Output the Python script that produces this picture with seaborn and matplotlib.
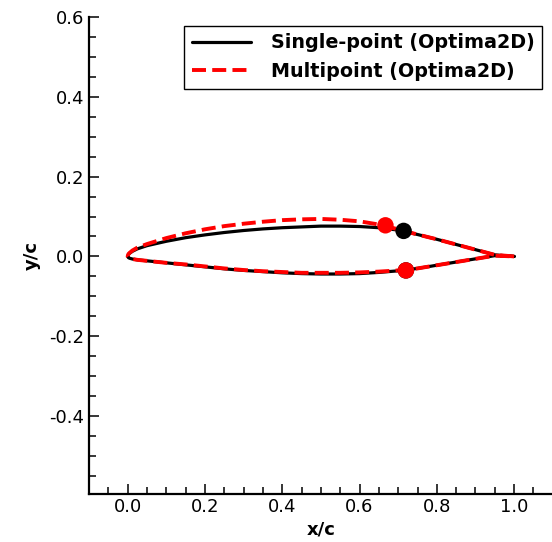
import numpy as np
import pandas as pd
import matplotlib
matplotlib.use("Agg")
import matplotlib.pyplot as plt
import seaborn as sns
from matplotlib.ticker import MultipleLocator

# ---- data ----
x_st = [0.0, 0.002, 0.005, 0.0125, 0.025, 0.05, 0.1, 0.15, 0.2, 0.25, 0.3, 0.35, 0.4,
        0.45, 0.5, 0.55, 0.6, 0.65, 0.7, 0.75, 0.8, 0.85, 0.9, 0.95, 1.0]

single_upper = [0.0, 0.005, 0.008, 0.013, 0.019, 0.027, 0.038, 0.047, 0.054, 0.060, 0.065,
                0.069, 0.072, 0.074, 0.076, 0.076, 0.075, 0.072, 0.066, 0.055, 0.043,
                0.030, 0.017, 0.004, 0.0]
single_lower = [0.0, -0.003, -0.0045, -0.0065, -0.0085, -0.011, -0.016, -0.021, -0.026, -0.031,
                -0.035, -0.038, -0.041, -0.043, -0.044, -0.044, -0.043, -0.040, -0.036,
                -0.030, -0.022, -0.014, -0.006, 0.002, 0.0]

multi_upper = [0.0, 0.006, 0.009, 0.015, 0.022, 0.031, 0.046, 0.058, 0.068, 0.076, 0.082,
               0.087, 0.091, 0.093, 0.094, 0.092, 0.088, 0.080, 0.068, 0.055, 0.043,
               0.030, 0.017, 0.004, 0.0]
multi_lower = [0.0, -0.003, -0.0045, -0.0065, -0.0085, -0.011, -0.016, -0.020, -0.025, -0.030,
               -0.034, -0.037, -0.039, -0.041, -0.041, -0.041, -0.040, -0.038, -0.035,
               -0.030, -0.022, -0.014, -0.006, 0.002, 0.0]

single_pts_x = [0.714, 0.72]
single_pts_y = [0.064, -0.035]
multi_pts_x = [0.667, 0.72]
multi_pts_y = [0.078, -0.035]

labels = ["Single-point (Optima2D)", "Multipoint (Optima2D)"]

xticks = [0.0, 0.2, 0.4, 0.6, 0.8, 1.0]
yticks = [-0.4, -0.2, 0.0, 0.2, 0.4, 0.6]


def contour(upper, lower):
    xs = list(reversed(x_st)) + x_st[1:]
    ys = list(reversed(upper)) + lower[1:]
    return pd.DataFrame({"x": xs, "y": ys})


sns.set_theme(style="ticks")
plt.rcParams["font.family"] = ["DejaVu Sans"]
plt.rcParams["text.color"] = "black"
plt.rcParams["axes.labelcolor"] = "black"
plt.rcParams["xtick.color"] = "black"
plt.rcParams["ytick.color"] = "black"

fig = plt.figure(figsize=(5.52, 5.42), dpi=100)
ax = fig.add_axes([89 / 552, 48.5 / 542, 463.8 / 552, 476.5 / 542])

d1 = contour(single_upper, single_lower)
d2 = contour(multi_upper, multi_lower)

DASH = (0, (3.6, 1.6))

sns.lineplot(data=d1, x="x", y="y", sort=False, estimator=None, ax=ax,
             color="black", linewidth=2.3, label=labels[0])
sns.lineplot(data=d2, x="x", y="y", sort=False, estimator=None, ax=ax,
             color="red", linewidth=2.8, label=labels[1])
ax.lines[1].set_linestyle(DASH)

sns.scatterplot(x=single_pts_x, y=single_pts_y, ax=ax, color="black", s=140,
                edgecolor="none", zorder=5, legend=False)
sns.scatterplot(x=multi_pts_x, y=multi_pts_y, ax=ax, color="red", s=140,
                edgecolor="none", zorder=6, legend=False)

ax.set_xlim(-0.1, 1.1)
ax.set_ylim(-0.594, 0.6)
ax.set_xticks(xticks)
ax.set_yticks(yticks)
ax.xaxis.set_minor_locator(MultipleLocator(0.05))
ax.yaxis.set_minor_locator(MultipleLocator(0.05))
ax.set_xticklabels([f"{v:.1f}" for v in xticks])
ax.set_yticklabels([f"{v:.1f}" for v in yticks])

ax.tick_params(which="both", direction="in", colors="black", labelcolor="black",
               labelsize=13, width=1.1)
ax.tick_params(which="major", length=7)
ax.tick_params(which="minor", length=5)

for s in ["top", "right"]:
    ax.spines[s].set_visible(False)
for s in ["left", "bottom"]:
    ax.spines[s].set_linewidth(1.6)
    ax.spines[s].set_color("black")

ax.set_xlabel("x/c", fontsize=13, fontweight="bold", labelpad=3, color="black")
ax.set_ylabel("y/c", fontsize=13, fontweight="bold", labelpad=6, color="black")

leg = ax.legend(loc="upper right", bbox_to_anchor=(0.985, 0.99), frameon=True,
                fancybox=False, framealpha=1, edgecolor="black",
                prop={"weight": "bold", "size": 13.8}, handlelength=3.1,
                handletextpad=1.0, labelspacing=0.5, borderpad=0.4,
                borderaxespad=0.2)
leg.get_frame().set_linewidth(1.0)
for t in leg.get_texts():
    t.set_color("black")
for h in leg.get_lines():
    if h.get_color() == "red":
        h.set_linestyle(DASH)

fig.savefig("out.png", dpi=100)
